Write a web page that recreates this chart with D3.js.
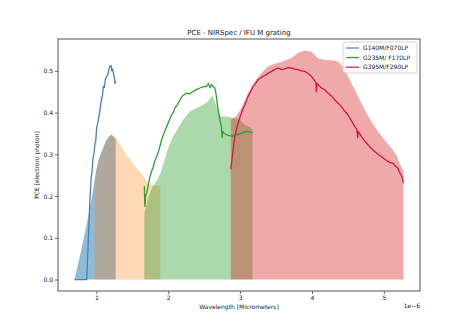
<!DOCTYPE html>
<html>
<head>
<meta charset="utf-8">
<script src="https://cdn.jsdelivr.net/npm/d3@7"></script>
<style>
    body { margin: 0; background: #fff; }
    text { font-family: "DejaVu Sans", sans-serif; }
</style>
</head>
<body>
<div class="chart"></div>
<script>
// wavelength in micrometers (axis shows x 1e-6 m), PCE in electron/photon

// filter/grating throughput areas
var fillG140F070 = [[0.695, 0], [0.774, 0.058], [0.843, 0.114], [0.90, 0.162], [0.94, 0.2], [0.972, 0.235], [1.0, 0.265],
    [1.04, 0.292], [1.075, 0.307], [1.11, 0.323], [1.144, 0.335], [1.18, 0.344], [1.21, 0.347], [1.24, 0.343], [1.269, 0.337]];
var fillG140F100 = [[0.972, 0.22], [1.0, 0.262], [1.04, 0.29], [1.075, 0.305], [1.11, 0.322], [1.144, 0.333], [1.18, 0.343],
    [1.21, 0.347], [1.24, 0.343], [1.27, 0.339], [1.33, 0.323], [1.40, 0.303], [1.45, 0.293], [1.49, 0.283], [1.56, 0.267],
    [1.60, 0.26], [1.65, 0.25], [1.70, 0.235], [1.75, 0.227], [1.82, 0.225], [1.89, 0.224]];
var fillG235F170 = [[1.667, 0.159], [1.72, 0.195], [1.78, 0.222], [1.85, 0.24], [1.89, 0.255], [1.93, 0.275], [2.0, 0.315],
    [2.069, 0.343], [2.139, 0.363], [2.208, 0.383], [2.301, 0.403], [2.394, 0.411], [2.486, 0.419], [2.556, 0.427],
    [2.603, 0.439], [2.617, 0.44], [2.65, 0.425], [2.694, 0.403], [2.742, 0.391], [2.811, 0.391], [2.903, 0.387],
    [2.996, 0.383], [3.065, 0.371], [3.14, 0.365], [3.172, 0.359]];
var fillG395F290 = [[2.871, 0.383], [2.95, 0.392], [3.019, 0.411], [3.111, 0.447], [3.204, 0.475], [3.297, 0.495],
    [3.389, 0.511], [3.482, 0.517], [3.597, 0.523], [3.714, 0.531], [3.806, 0.543], [3.899, 0.549], [3.992, 0.545],
    [4.083, 0.531], [4.176, 0.526], [4.315, 0.525], [4.38, 0.52], [4.454, 0.503], [4.547, 0.471], [4.639, 0.439],
    [4.732, 0.407], [4.825, 0.379], [4.917, 0.355], [5.01, 0.335], [5.103, 0.315], [5.172, 0.299], [5.218, 0.279],
    [5.264, 0.262], [5.274, 0.26]];

// PCE curves
var lineG140 = [[0.695, 0], [0.867, 0], [0.875, 0.04], [0.889, 0.10], [0.90, 0.15], [0.913, 0.20], [0.925, 0.239],
    [0.94, 0.26], [0.95, 0.287], [0.965, 0.30], [0.982, 0.327], [0.99, 0.33], [1.006, 0.367], [1.02, 0.375], [1.035, 0.39],
    [1.051, 0.407], [1.06, 0.42], [1.075, 0.435], [1.085, 0.44], [1.097, 0.463], [1.11, 0.46], [1.125, 0.48], [1.144, 0.487],
    [1.16, 0.49], [1.175, 0.505], [1.19, 0.511], [1.204, 0.513], [1.215, 0.50], [1.225, 0.505], [1.236, 0.495],
    [1.25, 0.485], [1.258, 0.47], [1.269, 0.475]];
var lineG235 = [[1.667, 0.224], [1.672, 0.19], [1.676, 0.175], [1.685, 0.20], [1.70, 0.207], [1.72, 0.225], [1.746, 0.247],
    [1.77, 0.26], [1.792, 0.271], [1.815, 0.285], [1.839, 0.295], [1.87, 0.31], [1.908, 0.335], [1.94, 0.35], [1.978, 0.367],
    [2.01, 0.38], [2.047, 0.395], [2.07, 0.40], [2.093, 0.411], [2.13, 0.42], [2.163, 0.431], [2.2, 0.44], [2.256, 0.447],
    [2.3, 0.445], [2.347, 0.451], [2.39, 0.455], [2.44, 0.459], [2.49, 0.462], [2.533, 0.463], [2.56, 0.47], [2.58, 0.46],
    [2.603, 0.467], [2.625, 0.462], [2.649, 0.459], [2.665, 0.445], [2.68, 0.423], [2.70, 0.40], [2.718, 0.383],
    [2.74, 0.365], [2.75, 0.34], [2.756, 0.355], [2.78, 0.35], [2.811, 0.347], [2.85, 0.345], [2.903, 0.344], [2.95, 0.347],
    [2.996, 0.349], [3.04, 0.352], [3.089, 0.355], [3.13, 0.354], [3.172, 0.352]];
var lineG395 = [[2.871, 0.264], [2.903, 0.311], [2.926, 0.343], [2.95, 0.36], [2.972, 0.375], [3.0, 0.39], [3.019, 0.399],
    [3.04, 0.41], [3.065, 0.419], [3.09, 0.43], [3.111, 0.439], [3.15, 0.452], [3.181, 0.463], [3.215, 0.47], [3.25, 0.479],
    [3.3, 0.485], [3.343, 0.489], [3.39, 0.494], [3.436, 0.499], [3.48, 0.503], [3.528, 0.507], [3.575, 0.503],
    [3.621, 0.505], [3.67, 0.508], [3.714, 0.507], [3.76, 0.504], [3.806, 0.503], [3.85, 0.50], [3.899, 0.499],
    [3.95, 0.493], [3.992, 0.487], [4.03, 0.478], [4.055, 0.472], [4.061, 0.45], [4.068, 0.47], [4.107, 0.463],
    [4.14, 0.458], [4.176, 0.455], [4.222, 0.447], [4.27, 0.44], [4.315, 0.431], [4.36, 0.423], [4.408, 0.415],
    [4.45, 0.405], [4.5, 0.395], [4.55, 0.38], [4.593, 0.367], [4.625, 0.36], [4.635, 0.34], [4.645, 0.355],
    [4.686, 0.343], [4.73, 0.333], [4.778, 0.323], [4.82, 0.315], [4.871, 0.307], [4.92, 0.30], [4.964, 0.295],
    [5.0, 0.29], [5.056, 0.283], [5.09, 0.28], [5.125, 0.279], [5.16, 0.272], [5.194, 0.267], [5.225, 0.255],
    [5.25, 0.247], [5.274, 0.231]];

var legendNames = ["G140M/F070LP", "G235M/ F170LP", "G395M/F290LP"];
var xTicks = [1, 2, 3, 4, 5];
var yTicks = [0.0, 0.1, 0.2, 0.3, 0.4, 0.5];

function drawChart() {
    var width = 467, height = 327;
    var pl = 58, pr = 420, pt = 39, pb = 291;

    var svg = d3.select(".chart").append("svg").attr("width", width).attr("height", height);

    // matplotlib style 5% margins
    var allPts = [].concat(fillG140F070, fillG140F100, fillG235F170, fillG395F290, lineG140, lineG235, lineG395);
    var xe = d3.extent(allPts, function (d) { return d[0]; }),
        ye = d3.extent(allPts, function (d) { return d[1]; });
    var xm = (xe[1] - xe[0]) * 0.05, ym = (ye[1] - ye[0]) * 0.05;

    var x = d3.scaleLinear().domain([xe[0] - xm, xe[1] + xm]).range([pl, pr]);
    var y = d3.scaleLinear().domain([ye[0] - ym, ye[1] + ym]).range([pb, pt]);

    var area = d3.area().x(function (d) { return x(d[0]); }).y0(y(0)).y1(function (d) { return y(d[1]); });
    var line = d3.line().x(function (d) { return x(d[0]); }).y(function (d) { return y(d[1]); });

    // fills, drawn in order so the overlaps blend
    var fills = [
        {data: fillG140F070, color: "#1f77b4", op: 0.5},
        {data: fillG140F100, color: "#ff7f0e", op: 0.3},
        {data: fillG235F170, color: "#2ca02c", op: 0.4},
        {data: fillG395F290, color: "#d62728", op: 0.4}
    ];
    svg.append("g").selectAll("path").data(fills).enter().append("path")
        .attr("d", function (d) { return area(d.data); })
        .attr("fill", function (d) { return d.color; })
        .attr("fill-opacity", function (d) { return d.op; });

    var lines = [
        {data: lineG140, color: "steelblue"},
        {data: lineG235, color: "#2ca02c"},
        {data: lineG395, color: "crimson"}
    ];
    svg.append("g").selectAll("path").data(lines).enter().append("path")
        .attr("d", function (d) { return line(d.data); })
        .attr("fill", "none")
        .attr("stroke", function (d) { return d.color; })
        .attr("stroke-width", 1.3)
        .attr("stroke-linejoin", "round");

    // axes
    svg.append("g").attr("transform", "translate(0," + pb + ")")
        .call(d3.axisBottom(x).tickValues(xTicks).tickFormat(d3.format("d")).tickSize(3).tickPadding(2));
    svg.append("g").attr("transform", "translate(" + pl + ",0)")
        .call(d3.axisLeft(y).tickValues(yTicks).tickFormat(d3.format(".1f")).tickSize(3).tickPadding(2));
    svg.selectAll(".domain").remove();
    svg.selectAll(".tick line").attr("stroke", "#444").attr("stroke-width", 0.8);
    svg.selectAll(".tick text").attr("fill", "#222").style("font-size", "6px");

    svg.append("rect").attr("x", pl).attr("y", pt).attr("width", pr - pl).attr("height", pb - pt)
        .attr("fill", "none").attr("stroke", "#555").attr("stroke-width", 1);

    // texts
    svg.append("text").attr("x", (pl + pr) / 2).attr("y", pt - 4).attr("text-anchor", "middle")
        .style("font-size", "7px").attr("fill", "#222").text("PCE - NIRSpec / IFU M grating");
    svg.append("text").attr("x", (pl + pr) / 2).attr("y", 309).attr("text-anchor", "middle")
        .style("font-size", "6px").attr("fill", "#222").text("Wavelength [Micrometers]");
    svg.append("text").attr("x", pr).attr("y", 308).attr("text-anchor", "end")
        .style("font-size", "6px").attr("fill", "#222").text("1e\u22126");
    svg.append("text").attr("transform", "translate(39," + (pt + pb) / 2 + ") rotate(-90)").attr("text-anchor", "middle")
        .style("font-size", "6px").attr("fill", "#222").text("PCE [electron/ photon]");

    // legend
    var lg = svg.append("g").attr("transform", "translate(343,42)");
    lg.append("rect").attr("width", 74).attr("height", 31).attr("rx", 2)
        .attr("fill", "#fff").attr("fill-opacity", 0.8).attr("stroke", "#ccc").attr("stroke-width", 0.8);
    lg.selectAll(".item").data(lines).enter().append("g").attr("class", "item")
        .attr("transform", function (d, i) { return "translate(0," + (6 + i * 9.6) + ")"; })
        .each(function (d, i) {
            var g = d3.select(this);
            g.append("line").attr("x1", 3).attr("x2", 16).attr("stroke", d.color).attr("stroke-width", 1.2);
            g.append("text").attr("x", 20).attr("dy", "0.35em").style("font-size", "6px").attr("fill", "#222")
                .text(legendNames[i]);
        });
}

drawChart();
</script>
</body>
</html>
